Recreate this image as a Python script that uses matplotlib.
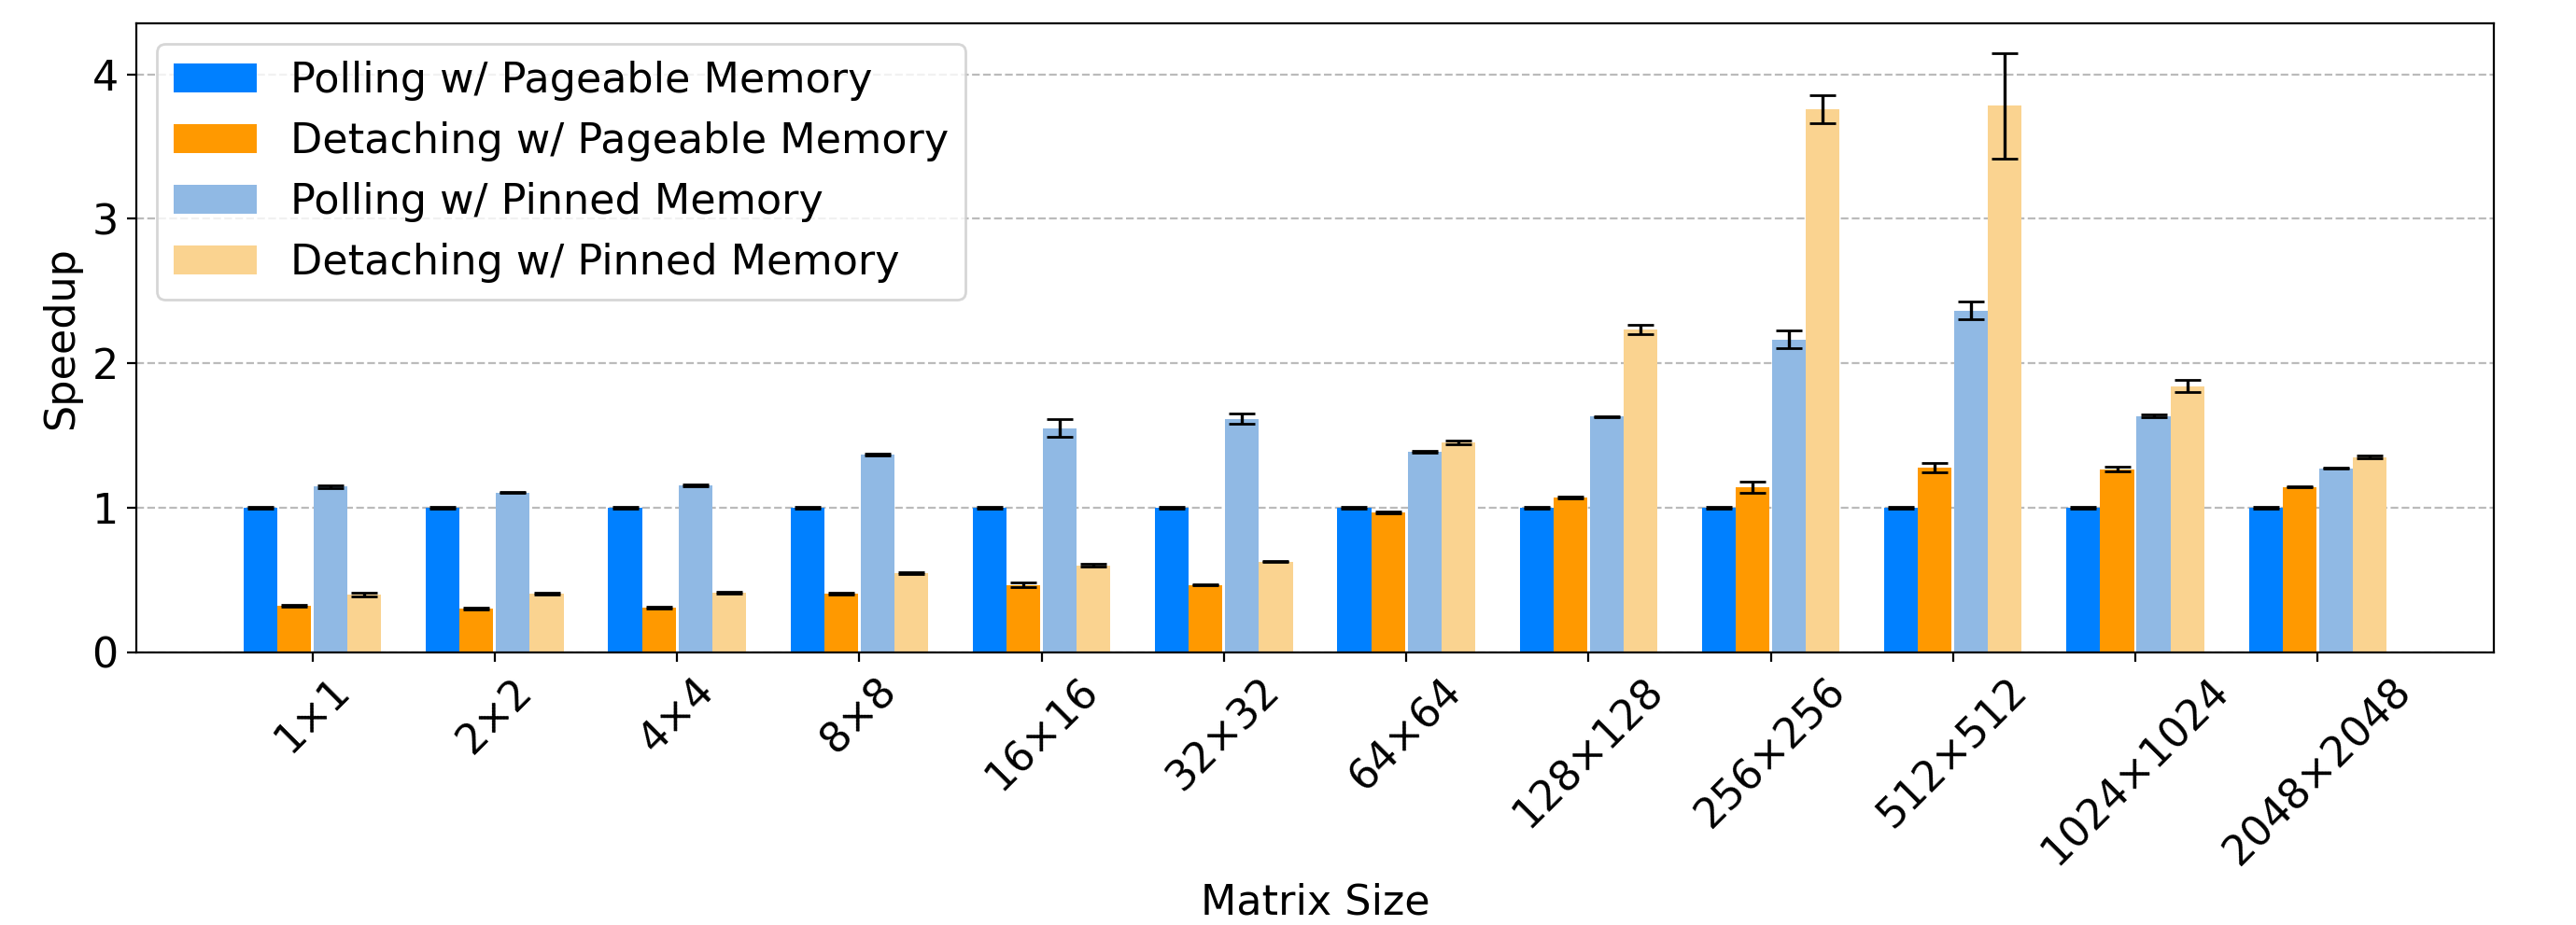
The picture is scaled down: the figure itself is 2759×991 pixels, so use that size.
import numpy as np
import matplotlib
matplotlib.use('Agg')
import matplotlib.pyplot as plt

## data
sizes = ['1×1', '2×2', '4×4', '8×8', '16×16', '32×32', '64×64',
         '128×128', '256×256', '512×512', '1024×1024', '2048×2048']

poll_pageable = [1.0, 1.0, 1.0, 1.0, 1.0, 1.0, 1.0, 1.0, 1.0, 1.0, 1.0, 1.0]
poll_pageable_err = [0.005] * 12

detach_pageable = [0.320, 0.301, 0.307, 0.405, 0.466, 0.466, 0.966, 1.070, 1.140, 1.278, 1.267, 1.144]
detach_pageable_err = [0.005, 0.004, 0.005, 0.006, 0.014, 0.005, 0.006, 0.004, 0.039, 0.035, 0.017, 0.005]

poll_pinned = [1.145, 1.106, 1.152, 1.366, 1.552, 1.616, 1.388, 1.632, 2.166, 2.365, 1.636, 1.274]
poll_pinned_err = [0.012, 0.006, 0.006, 0.006, 0.060, 0.036, 0.008, 0.004, 0.062, 0.063, 0.010, 0.005]

detach_pinned = [0.398, 0.405, 0.411, 0.548, 0.601, 0.627, 1.452, 2.236, 3.758, 3.784, 1.843, 1.351]
detach_pinned_err = [0.015, 0.006, 0.006, 0.005, 0.010, 0.004, 0.012, 0.032, 0.097, 0.364, 0.042, 0.012]

labels = ['Polling w/ Pageable Memory', 'Detaching w/ Pageable Memory',
          'Polling w/ Pinned Memory', 'Detaching w/ Pinned Memory']
colors = ['#0080ff', '#ff9900', '#90b9e4', '#fad390']

plt.rcParams['font.family'] = ['DejaVu Sans']
fig, ax = plt.subplots(figsize=(13.795, 4.955), dpi=200)
fig.subplots_adjust(left=0.053, right=0.968, top=0.975, bottom=0.295)

x = np.arange(len(sizes))
w = 0.185
offsets = [-0.1 - w, -0.1, 0.1, 0.1 + w]
series = [(poll_pageable, poll_pageable_err), (detach_pageable, detach_pageable_err),
          (poll_pinned, poll_pinned_err), (detach_pinned, detach_pinned_err)]

for (vals, errs), off, c, lab in zip(series, offsets, colors, labels):
    ax.bar(x + off, vals, w, yerr=errs, color=c, label=lab, capsize=5,
           error_kw=dict(elinewidth=1.2, capthick=1.0, ecolor='black'))

ax.set_xticks(x)
ax.set_xticklabels(sizes, rotation=45, fontsize=16)
ax.tick_params(axis='y', labelsize=16)
ax.set_yticks([0, 1, 2, 3, 4])
ax.set_xlabel('Matrix Size', fontsize=16)
ax.set_ylabel('Speedup', fontsize=16)
ax.yaxis.grid(True, linestyle='--', color='#bbbbbb', linewidth=0.8)
ax.set_axisbelow(True)
ax.legend(loc='upper left', fontsize=16)

fig.savefig('out.png', dpi=200)
